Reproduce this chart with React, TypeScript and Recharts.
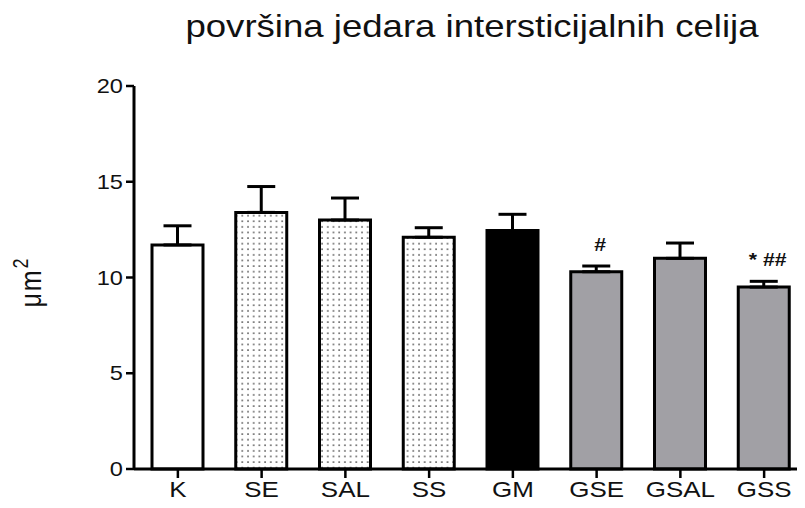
import React from 'react';
import { BarChart, Bar, XAxis, YAxis, ErrorBar, Cell, LabelList, Customized } from 'recharts';

const categories = ['K', 'SE', 'SAL', 'SS', 'GM', 'GSE', 'GSAL', 'GSS'];
const means = [11.7, 13.4, 13.0, 12.1, 12.45, 10.3, 11.0, 9.5];
const sems = [1.0, 1.35, 1.15, 0.5, 0.85, 0.3, 0.8, 0.3];
const notes = ['', '', '', '', '', '#', '', '* ##'];
const fillKinds = ['white', 'dots', 'dots', 'dots', 'black', 'gray', 'gray', 'gray'];
const yTicks = [0, 5, 10, 15, 20];

const FILLS: Record<string, string> = {
  white: '#ffffff',
  dots: 'url(#dotPattern)',
  black: '#000000',
  gray: '#a1a0a5',
};

const data = categories.map((c, i) => ({
  name: c,
  mean: means[i],
  err: [0, sems[i]],
  note: notes[i],
}));

const FONT = '"Liberation Sans", Arial, Helvetica, sans-serif';
const SX = 1.18;

const XTick = (props: any) => {
  const { x, y, payload } = props;
  return (
    <g transform={`translate(${x},${y})`}>
      <text transform={`scale(${SX},1)`} textAnchor="middle" dy="0.71em" fontSize={22} fontFamily={FONT} fill="#111">
        {payload.value}
      </text>
    </g>
  );
};

const YTick = (props: any) => {
  const { x, y, payload } = props;
  return (
    <g transform={`translate(${x},${y})`}>
      <text transform={`scale(${SX},1)`} textAnchor="end" dy="0.355em" fontSize={20} fontFamily={FONT} fill="#111">
        {payload.value}
      </text>
    </g>
  );
};

const NoteLabel = (props: any) => {
  const { x, y, width, height, index, value } = props;
  if (!value) return null;
  const k = height / means[index];
  const top = y - sems[index] * k;
  return (
    <g transform={`translate(${x + width / 2 + 4},${top - 15})`}>
      <text
        transform={`scale(${SX},1)`}
        textAnchor="middle"
        fontSize={18}
        fontWeight="bold"
        fontFamily={FONT}
        fill="#111"
        style={{ whiteSpace: 'pre' }}
      >
        {value}
      </text>
    </g>
  );
};

const Decorations = () => (
  <g>
    <g transform="translate(472,37)">
      <text transform={`scale(${SX},1)`} textAnchor="middle" fontSize={31} fontFamily={FONT} fill="#111">
        površina jedara intersticijalnih celija
      </text>
    </g>
    <g transform="translate(41,282) rotate(-90)">
      <text transform={`scale(1,${SX})`} textAnchor="middle" fontSize={25} letterSpacing={2} fontFamily={FONT} fill="#111">
        μm<tspan dy="-11" fontSize={18}>2</tspan>
      </text>
    </g>
  </g>
);

export default function App() {
  return (
    <div style={{ margin: -8, width: 805, height: 508, overflow: 'hidden', background: '#fff' }}>
      <BarChart
        width={810}
        height={508}
        data={data}
        margin={{ top: 86, right: 4, bottom: 0, left: 0 }}
      >
        <defs>
          <pattern id="dotPattern" x="0" y="0" width="5.7" height="5.6" patternUnits="userSpaceOnUse">
            <rect x="0" y="0" width="5.7" height="5.6" fill="#ffffff" />
            <rect x="2.2" y="2.2" width="1.4" height="1.4" fill="#2e2e2e" />
          </pattern>
        </defs>
        <XAxis
          dataKey="name"
          interval={0}
          height={39}
          padding={{ left: 2, right: 0 }}
          axisLine={{ stroke: '#000', strokeWidth: 3 }}
          tickLine={{ stroke: '#000', strokeWidth: 2.5 }}
          tickSize={9}
          tickMargin={3}
          tick={<XTick />}
        />
        <YAxis
          domain={[0, 20]}
          ticks={yTicks}
          width={134}
          axisLine={{ stroke: '#000', strokeWidth: 3 }}
          tickLine={{ stroke: '#000', strokeWidth: 2.5 }}
          tickSize={8}
          tickMargin={3}
          tick={<YTick />}
        />
        <Bar dataKey="mean" barSize={51} stroke="#000" strokeWidth={3} isAnimationActive={false}>
          {data.map((d, i) => (
            <Cell key={d.name} fill={FILLS[fillKinds[i]]} stroke="#000" strokeWidth={3} />
          ))}
          <ErrorBar dataKey="err" direction="y" width={14} stroke="#000" strokeWidth={3} isAnimationActive={false} />
          <LabelList dataKey="note" content={<NoteLabel />} />
        </Bar>
        <Customized component={Decorations} />
      </BarChart>
    </div>
  );
}
